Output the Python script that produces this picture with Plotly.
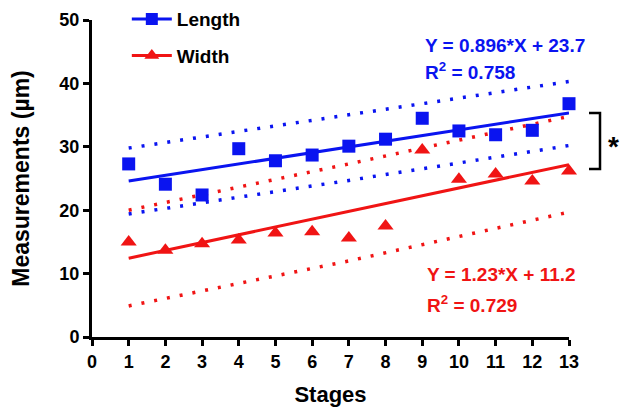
import plotly.graph_objects as go

stages = list(range(1, 14))
length = [27.3, 24.1, 22.4, 29.7, 27.8, 28.7, 30.1, 31.2, 34.5, 32.5, 31.9, 32.6, 36.8]
width = [15.0, 13.7, 14.7, 15.3, 16.4, 16.6, 15.6, 17.5, 29.5, 24.9, 25.7, 24.6, 26.2]

fit_x = [1, 13]
length_fit = [24.6, 35.35]
width_fit = [12.43, 27.19]

band_x = [1, 7, 13]
length_upper = [29.8, 35.0, 40.3]
length_lower = [19.4, 24.7, 30.2]
width_upper = [20.0, 27.3, 34.8]
width_lower = [4.9, 12.0, 19.7]

BLUE = "#0a14f0"
RED = "#f01414"
FONT = "Liberation Sans, Arial, sans-serif"

fig = go.Figure()

dot = "3px,10px"
for yy, col in [(length_upper, BLUE), (length_lower, BLUE), (width_upper, RED), (width_lower, RED)]:
    fig.add_trace(go.Scatter(x=band_x, y=yy, mode="lines", showlegend=False,
                             line=dict(color=col, width=3.5, dash=dot), cliponaxis=False))

fig.add_trace(go.Scatter(x=fit_x, y=length_fit, mode="lines", showlegend=False,
                         line=dict(color=BLUE, width=3), cliponaxis=False))
fig.add_trace(go.Scatter(x=fit_x, y=width_fit, mode="lines", showlegend=False,
                         line=dict(color=RED, width=3), cliponaxis=False))

fig.add_trace(go.Scatter(x=stages, y=length, mode="markers", showlegend=False,
                         marker=dict(symbol="square", size=13, color=BLUE), cliponaxis=False))
fig.add_trace(go.Scatter(x=stages, y=width, mode="markers", showlegend=False,
                         marker=dict(symbol="triangle-up", size=14, color=RED), cliponaxis=False))

fig.add_trace(go.Scatter(x=[None], y=[None], mode="lines+markers", name="Length", legendgroup="a",
                         line=dict(color=BLUE, width=3), marker=dict(symbol="square", size=12, color=BLUE)))
fig.add_trace(go.Scatter(x=[None], y=[None], mode="lines+markers", name="Width", legendgroup="b",
                         line=dict(color=RED, width=3), marker=dict(symbol="triangle-up", size=13, color=RED)))

axis_common = dict(showline=True, linecolor="black", linewidth=3, ticks="outside", ticklen=6,
                   tickwidth=3, tickcolor="black", showgrid=False, zeroline=False, automargin=False,
                   tickfont=dict(family=FONT, size=18, color="black", weight="bold"))

fig.update_xaxes(range=[0, 13], tickmode="array", tickvals=list(range(0, 14)),
                 title=dict(text="Stages", font=dict(family=FONT, size=22, color="black", weight="bold"),
                            standoff=21), **axis_common)
fig.update_yaxes(range=[0, 50], tickmode="array", tickvals=[0, 10, 20, 30, 40, 50],
                 title=dict(text="Measurements (µm)", font=dict(family=FONT, size=23, color="black", weight="bold"),
                            standoff=30), **axis_common)

annots = [
    dict(x=0.694, y=0.921, text="Y = 0.896*X + 23.7", color=BLUE),
    dict(x=0.694, y=0.839, text="R<sup>2</sup> = 0.758", color=BLUE),
    dict(x=0.698, y=0.196, text="Y = 1.23*X + 11.2", color=RED),
    dict(x=0.698, y=0.104, text="R<sup>2</sup> = 0.729", color=RED),
]
for a in annots:
    fig.add_annotation(x=a["x"], y=a["y"], xref="paper", yref="paper", xanchor="left", yanchor="middle",
                       text=a["text"], showarrow=False, align="left",
                       font=dict(family=FONT, size=19, color=a["color"], weight="bold"))

# significance bracket
bx0, bx1 = (589 - 92) / 477, (600 - 92) / 477
by0, by1 = (337 - 169) / 317, (337 - 113) / 317
fig.add_shape(type="path", xref="paper", yref="paper",
              path=f"M {bx0} {by1} L {bx1} {by1} L {bx1} {by0} L {bx0} {by0}",
              line=dict(color="black", width=2.5))
fig.add_annotation(x=(613 - 92) / 477, y=(337 - 146) / 317, xref="paper", yref="paper", text="*",
                   xanchor="center", showarrow=False, borderpad=0,
                   font=dict(family=FONT, size=28, color="black", weight="bold"))

# the page body adds an 8px margin, so the figure is sized to fit the window from (8, 8)
fig.update_layout(
    width=613, height=399,
    margin=dict(l=84, r=52, t=12, b=70, autoexpand=False),
    paper_bgcolor="white", plot_bgcolor="white",
    showlegend=True,
    legend=dict(x=0.073, y=1.063, xref="paper", yref="paper", xanchor="left", yanchor="top",
                tracegroupgap=9,
                font=dict(family=FONT, size=19, color="black", weight="bold"),
                bgcolor="rgba(0,0,0,0)", itemwidth=40),
)

fig.write_html("out.html")
